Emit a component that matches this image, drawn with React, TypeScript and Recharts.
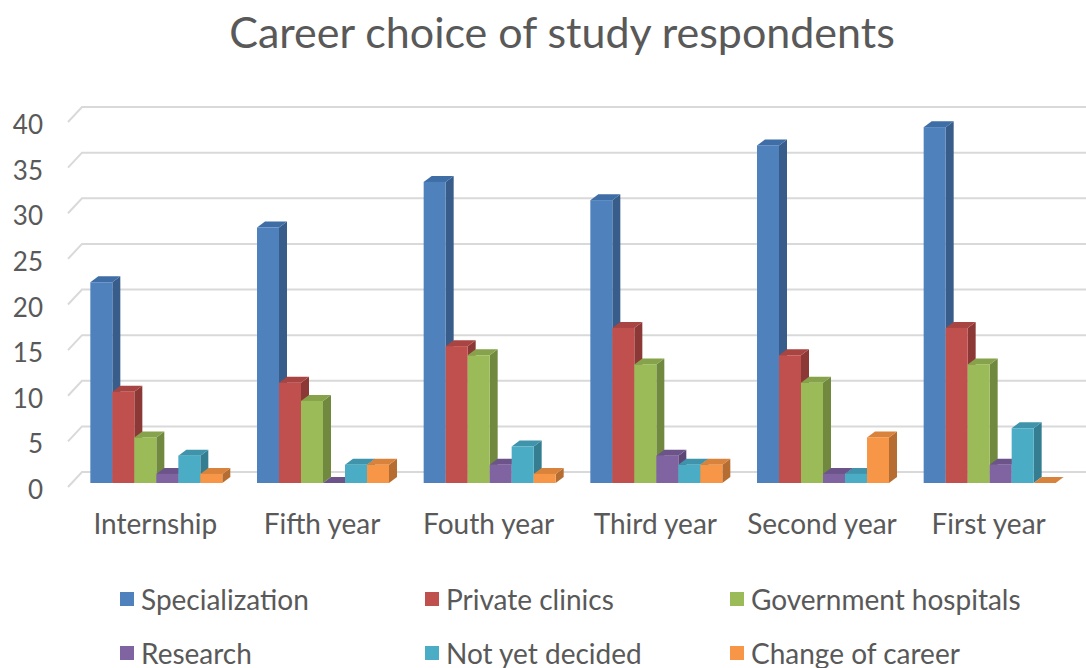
import React from 'react'
import { BarChart, Bar, XAxis, YAxis, CartesianGrid, Legend } from 'recharts'

const years = ['Internship', 'Fifth year', 'Fouth year', 'Third year', 'Second year', 'First year']
const specialization = [22, 28, 33, 31, 37, 39]
const privateClinics = [10, 11, 15, 17, 14, 17]
const governmentHospitals = [5, 9, 14, 13, 11, 13]
const research = [1, 0, 2, 3, 1, 2]
const notYetDecided = [3, 2, 4, 2, 1, 6]
const changeOfCareer = [1, 2, 1, 2, 5, 0]
const yTicks = [0, 5, 10, 15, 20, 25, 30, 35, 40]

const series = [
  { key: 'specialization', name: 'Specialization', values: specialization, front: '#4F81BD', side: '#385D8A', top: '#3F6DA6' },
  { key: 'privateClinics', name: 'Private clinics', values: privateClinics, front: '#C0504D', side: '#8C3836', top: '#A84441' },
  { key: 'governmentHospitals', name: 'Government hospitals', values: governmentHospitals, front: '#9BBB59', side: '#71893F', top: '#86A24A' },
  { key: 'research', name: 'Research', values: research, front: '#8064A2', side: '#5C4776', top: '#6C548A' },
  { key: 'notYetDecided', name: 'Not yet decided', values: notYetDecided, front: '#4BACC6', side: '#357D91', top: '#3F94AB' },
  { key: 'changeOfCareer', name: 'Change of career', values: changeOfCareer, front: '#F79646', side: '#B66D31', top: '#D9823B' },
]

const data = years.map((year, i) => {
  const row: Record<string, string | number> = { year }
  series.forEach((s) => {
    row[s.key] = s.values[i]
  })
  return row
})

const FONT = 'Lato, "Open Sans", sans-serif'
const TEXT = '#595959'
const DX = 8
const DY = 6

// fake 3d: front face + side + top
function make3dBar(front: string, side: string, top: string) {
  return (props: any) => {
    const { x, y, width, height } = props
    const h = Math.max(height || 0, 0)
    const w = width
    return (
      <g>
        <polygon
          points={`${x + w},${y} ${x + w + DX},${y - DY} ${x + w + DX},${y + h - DY} ${x + w},${y + h}`}
          fill={side}
        />
        <polygon
          points={`${x},${y} ${x + DX},${y - DY} ${x + w + DX},${y - DY} ${x + w},${y}`}
          fill={top}
        />
        {h > 0 && <rect x={x} y={y} width={w} height={h} fill={front} />}
      </g>
    )
  }
}

function GridLine(props: any) {
  const { x1, y1, x2 } = props
  return (
    <path
      d={`M${x1 - 4},${y1 + 4} L${x1 + 10},${y1 - 11} L${x2 + 14},${y1 - 11}`}
      stroke="#D9D9D9"
      strokeWidth={2}
      fill="none"
    />
  )
}

function YTick(props: any) {
  const { x, y, payload } = props
  return (
    <text x={x} y={y + 7} dy="0.35em" textAnchor="end" fontSize={26} fill={TEXT} fontFamily={FONT}>
      {payload.value}
    </text>
  )
}

function XTick(props: any) {
  const { x, y, payload } = props
  return (
    <text x={x} y={y} textAnchor="middle" fontSize={28} fill={TEXT} fontFamily={FONT}>
      {payload.value}
    </text>
  )
}

function LegendContent() {
  const rows = [series.slice(0, 3), series.slice(3)]
  return (
    <div style={{ height: 100, paddingTop: 16, boxSizing: 'border-box', fontFamily: FONT }}>
      {rows.map((row, r) => (
        <div key={r} style={{ display: 'flex', height: 30, marginBottom: r === 0 ? 24 : 0, paddingLeft: 120 }}>
          {row.map((s) => (
            <div key={s.key} style={{ width: 305, display: 'flex', alignItems: 'center' }}>
              <span style={{ width: 14, height: 14, background: s.front, marginRight: 7, display: 'inline-block' }} />
              <span style={{ fontSize: 28, color: TEXT, lineHeight: '30px' }}>{s.name}</span>
            </div>
          ))}
        </div>
      ))}
    </div>
  )
}

export default function App() {
  return (
    <div style={{ position: 'absolute', left: 0, top: 0, width: 1086, height: 668, background: '#fff' }}>
      <div
        style={{
          position: 'absolute',
          top: 6,
          left: 0,
          width: 1124,
          textAlign: 'center',
          fontFamily: FONT,
          fontSize: 43,
          color: TEXT,
          zIndex: 2,
        }}
      >
        Career choice of study respondents
      </div>
      <BarChart
        width={1086}
        height={668}
        data={data}
        margin={{ top: 118, right: 14, bottom: 0, left: 0 }}
        barCategoryGap="11%"
        barGap={0}
      >
        <CartesianGrid vertical={false} horizontal={<GridLine />} />
        <XAxis
          dataKey="year"
          axisLine={false}
          tickLine={false}
          tickSize={0}
          tickMargin={51}
          height={85}
          tick={<XTick />}
        />
        <YAxis
          domain={[0, 40]}
          ticks={yTicks}
          interval={0}
          axisLine={false}
          tickLine={false}
          tickSize={0}
          tickMargin={29}
          width={72}
          tick={<YTick />}
        />
        <Legend verticalAlign="bottom" content={<LegendContent />} wrapperStyle={{ left: 0, width: 1086 }} />
        {series.map((s) => (
          <Bar
            key={s.key}
            dataKey={s.key}
            name={s.name}
            fill={s.front}
            isAnimationActive={false}
            shape={make3dBar(s.front, s.side, s.top)}
          />
        ))}
      </BarChart>
    </div>
  )
}
